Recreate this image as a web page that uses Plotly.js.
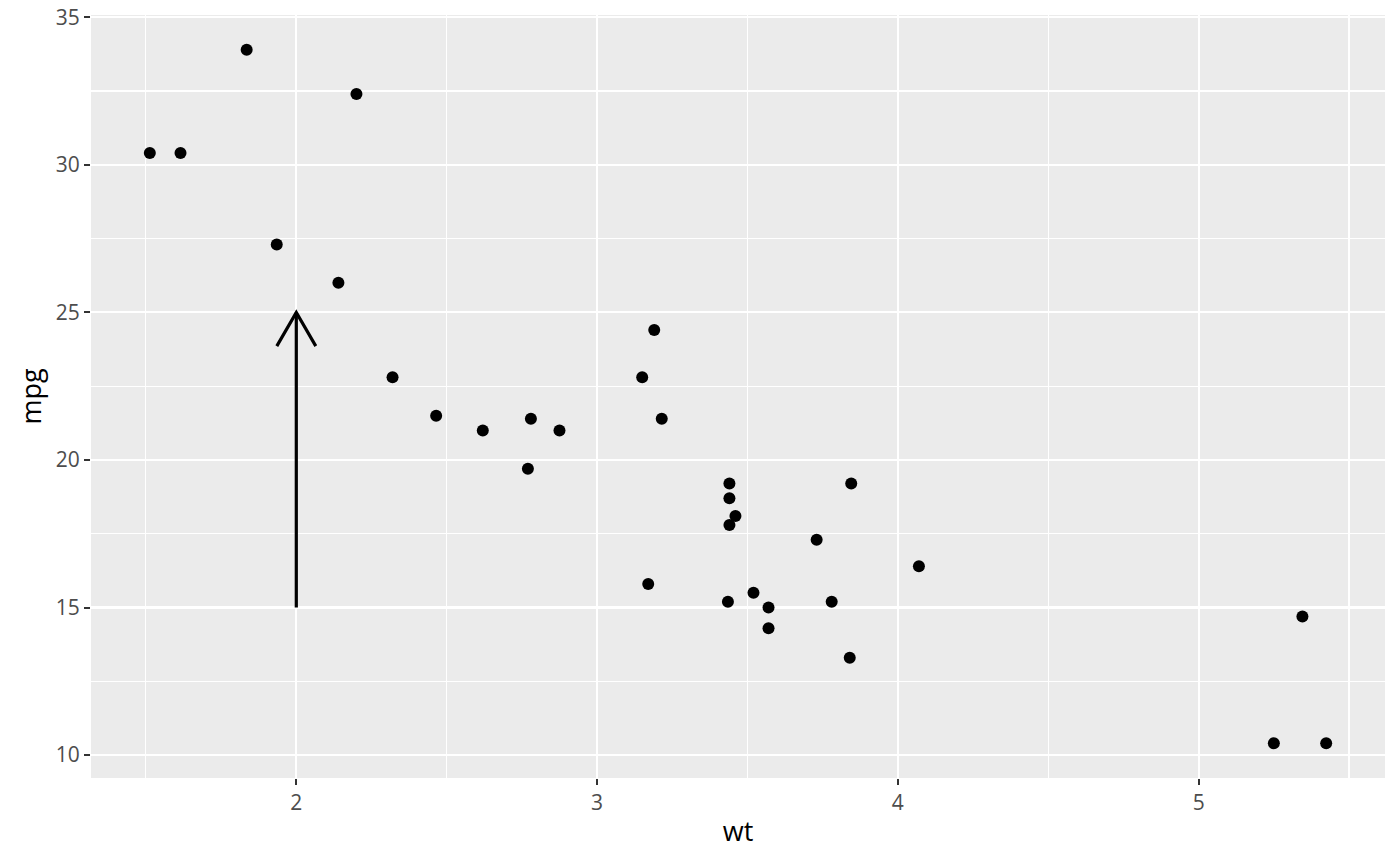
<!DOCTYPE html>
<html>
<head>
<meta charset="utf-8">
<script src="https://cdn.plot.ly/plotly-3.0.1.min.js"></script>
<style>
  html, body { margin: 0; padding: 0; background: #ffffff; }
  #chart { width: 1400px; height: 866px; }
</style>
</head>
<body>
<div id="chart"></div>
<script>
// mtcars: weight (1000 lbs) and miles per gallon
var wt = [2.620, 2.875, 2.320, 3.215, 3.440, 3.460, 3.570, 3.190, 3.150, 3.440, 3.440,
          4.070, 3.730, 3.780, 5.250, 5.424, 5.345, 2.200, 1.615, 1.835, 2.465, 3.520,
          3.435, 3.840, 3.845, 1.935, 2.140, 1.513, 3.170, 2.770, 3.570, 2.780];
var mpg = [21.0, 21.0, 22.8, 21.4, 18.7, 18.1, 14.3, 24.4, 22.8, 19.2, 17.8,
           16.4, 17.3, 15.2, 10.4, 10.4, 14.7, 32.4, 30.4, 33.9, 21.5, 15.5,
           15.2, 13.3, 19.2, 27.3, 26.0, 30.4, 15.8, 19.7, 15.0, 21.4];

// arrow segment (x, y start -> x, y end)
var arrowX = [2, 2];
var arrowY = [15, 25];

var W = 1400, H = 866;
var margin = {l: 91, r: 15, t: 15, b: 88};

function expand(arr) {
  var lo = Math.min.apply(null, arr), hi = Math.max.apply(null, arr);
  var pad = (hi - lo) * 0.05;
  return [lo - pad, hi + pad];
}
var xr = expand(wt), yr = expand(mpg);

// arrow head: open, 30 degrees, fixed pixel length
var xScale = (W - margin.l - margin.r) / (xr[1] - xr[0]);
var yScale = (H - margin.t - margin.b) / (yr[1] - yr[0]);
var headLen = 39, headAng = 30 * Math.PI / 180;
var hw = headLen * Math.sin(headAng) / xScale;
var hh = headLen * Math.cos(headAng) / yScale;
var tipX = arrowX[1], tipY = arrowY[1];

var points = {
  x: wt, y: mpg,
  type: 'scatter', mode: 'markers',
  marker: {color: '#000000', size: 12},
  hoverinfo: 'x+y'
};
var segment = {
  x: arrowX, y: arrowY,
  type: 'scatter', mode: 'lines',
  line: {color: '#000000', width: 3.2},
  hoverinfo: 'skip'
};
var head = {
  x: [tipX - hw, tipX, tipX + hw],
  y: [tipY - hh, tipY, tipY - hh],
  type: 'scatter', mode: 'lines',
  line: {color: '#000000', width: 3.2},
  hoverinfo: 'skip'
};

var tickFont = {family: 'Open Sans, Noto Sans, sans-serif', size: 21, color: '#4D4D4D'};
var titleFont = {family: 'Open Sans, Noto Sans, sans-serif', size: 27, color: '#000000'};

var layout = {
  width: W, height: H,
  margin: margin,
  paper_bgcolor: '#FFFFFF',
  plot_bgcolor: '#EBEBEB',
  showlegend: false,
  xaxis: {
    range: xr, automargin: false,
    tickvals: [2, 3, 4, 5],
    ticktext: ['2', '3', '4', '5'],
    showgrid: true, gridcolor: '#FFFFFF', gridwidth: 2.2,
    minor: {tickvals: [1.5, 2.5, 3.5, 4.5, 5.5], showgrid: true, gridcolor: '#FFFFFF', gridwidth: 1.1, ticks: ''},
    zeroline: false, showline: false,
    ticks: 'outside', ticklen: 6, tickwidth: 2, tickcolor: '#333333',
    tickfont: tickFont,
    title: {text: 'wt', font: titleFont, standoff: 6}
  },
  yaxis: {
    range: yr, automargin: false,
    tickvals: [10, 15, 20, 25, 30, 35],
    ticktext: ['10', '15', '20', '25', '30', '35'],
    showgrid: true, gridcolor: '#FFFFFF', gridwidth: 2.2,
    minor: {tickvals: [12.5, 17.5, 22.5, 27.5, 32.5], showgrid: true, gridcolor: '#FFFFFF', gridwidth: 1.1, ticks: ''},
    zeroline: false, showline: false,
    ticks: 'outside', ticklen: 6, tickwidth: 2, tickcolor: '#333333',
    tickfont: tickFont,
    title: {text: 'mpg', font: titleFont, standoff: 6}
  }
};

Plotly.newPlot('chart', [points, segment, head], layout, {displayModeBar: false, staticPlot: true});
</script>
</body>
</html>
